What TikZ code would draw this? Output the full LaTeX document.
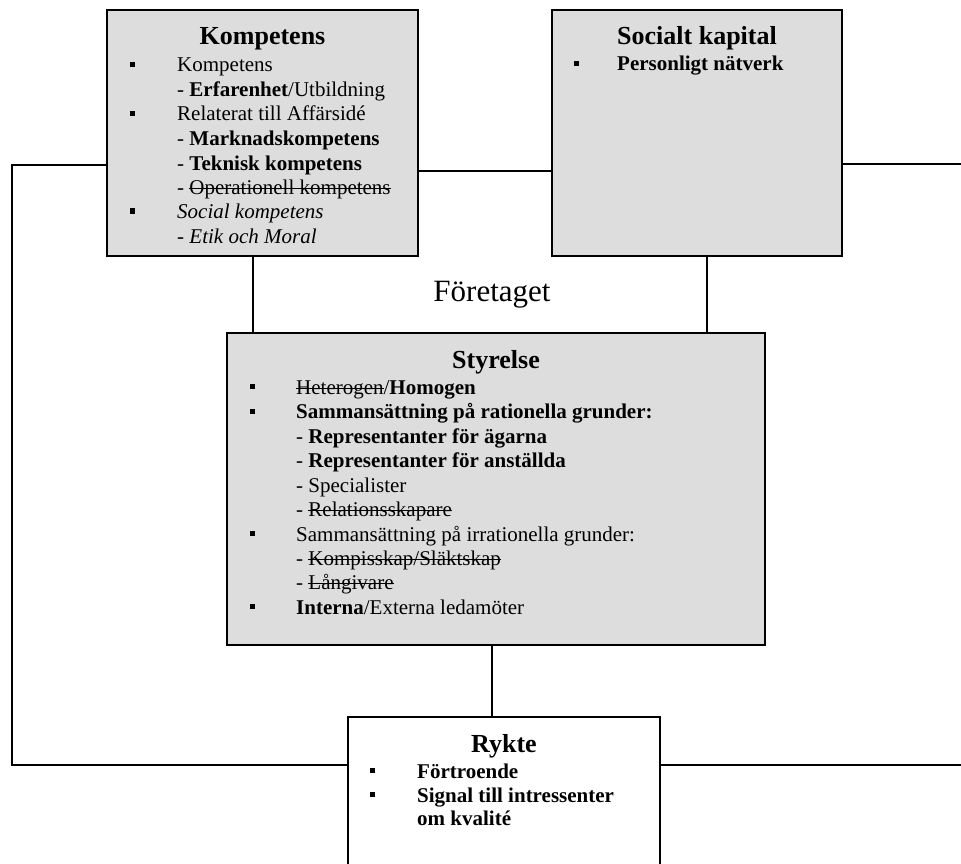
\documentclass[tikz,border=0pt]{standalone}
\usepackage{fontspec}
\setmainfont{Liberation Serif}
\definecolor{boxgray}{RGB}{221,221,221}
\newcommand{\bsq}[1]{\llap{\rule[5pt]{5pt}{5pt}\hspace{#1}}}
\newsavebox{\strkbox}
\newcommand{\strk}[1]{\sbox{\strkbox}{#1}\rlap{\rule[5.5pt]{\wd\strkbox}{0.9pt}}\usebox{\strkbox}}
\begin{document}
\begin{tikzpicture}[x=1pt,y=-1pt,
  graybox/.style={draw, line width=1.8pt, fill=boxgray, inner sep=0pt},
  whitebox/.style={draw, line width=1.8pt, fill=white, inner sep=0pt},
  conn/.style={draw, line width=1.3pt},
  txt/.style={anchor=base west, inner sep=0pt, font=\fontsize{21}{24}\selectfont},
  ttl/.style={anchor=base, inner sep=0pt, font=\fontsize{26}{30}\selectfont\bfseries}]
\useasboundingbox (0,0) rectangle (961,864);
\clip (0,0) rectangle (961,864);

% boxes
\node[graybox, minimum width=311pt, minimum height=246pt] (komp) at (262.5,133) {};
\node[graybox, minimum width=290pt, minimum height=246pt] (soc) at (697,133) {};
\node[graybox, minimum width=538pt, minimum height=312pt] (styr) at (496,489) {};
\node[whitebox, minimum width=312pt, minimum height=190pt] (ryk) at (504,812) {};

% helper coordinates
\coordinate (Lx) at (12,0);
\coordinate (Rx) at (985,0);
\coordinate (yKS) at (0,171);
\coordinate (yL) at (0,165);
\coordinate (yR) at (0,164);
\coordinate (yB) at (0,765);
\coordinate (kx) at (253,0);
\coordinate (sx) at (707,0);
\coordinate (mx) at (492,0);

% connectors
\draw[conn] (komp.east |- yKS) -- (soc.west |- yKS);
\draw[conn] (komp.west |- yL) -- (Lx |- yL) -- (Lx |- yB) -- (ryk.west |- yB);
\draw[conn] (soc.east |- yR) -- (Rx |- yR) -- (Rx |- yB) -- (ryk.east |- yB);
\draw[conn] (kx |- komp.south) -- (kx |- styr.north);
\draw[conn] (sx |- soc.south) -- (sx |- styr.north);
\draw[conn] (mx |- styr.south) -- (mx |- ryk.north);

% center label
\node[anchor=base, inner sep=0pt, font=\fontsize{31}{36}\selectfont] (foretaget) at (492,301.5) {Företaget};

% Kompetens
\node[ttl] (kt) at (262.5,45) {Kompetens};
\node[txt] (k1) at (177,72) {\bsq{42.5pt}Kompetens};
\node[txt] (k2) at (177,96.5) {- \textbf{Erfarenhet}/Utbildning};
\node[txt] (k3) at (177,121) {\bsq{42.5pt}Relaterat till Affärsidé};
\node[txt] (k4) at (177,145.5) {- \textbf{Marknadskompetens}};
\node[txt] (k5) at (177,170) {- \textbf{Teknisk kompetens}};
\node[txt] (k6) at (177,194) {- \strk{Operationell kompetens}};
\node[txt] (k7) at (177,218.5) {\bsq{42.5pt}\textit{Social kompetens}};
\node[txt] (k8) at (177,243) {\textit{- Etik och Moral}};

% Socialt kapital
\node[ttl] (st) at (697,45) {Socialt kapital};
\node[txt] (p1) at (617,71) {\bsq{38.5pt}\textbf{Personligt nätverk}};

% Styrelse
\node[ttl] (yt) at (496,368.5) {Styrelse};
\node[txt] (s1) at (296,394) {\bsq{41.5pt}\strk{Heterogen}/\textbf{Homogen}};
\node[txt] (s2) at (296,418.5) {\bsq{41.5pt}\textbf{Sammansättning på rationella grunder:}};
\node[txt] (s3) at (296,443) {- \textbf{Representanter för ägarna}};
\node[txt] (s4) at (296,467) {- \textbf{Representanter för anställda}};
\node[txt] (s5) at (296,492) {- Specialister};
\node[txt] (s6) at (296,516) {- \strk{Relationsskapare}};
\node[txt] (s7) at (296,541) {\bsq{41.5pt}Sammansättning på irrationella grunder:};
\node[txt] (s8) at (296,565) {- \strk{Kompisskap/Släktskap}};
\node[txt] (s9) at (296,589.5) {- \strk{Långivare}};
\node[txt] (s10) at (296,614) {\bsq{41.5pt}\textbf{Interna}/Externa ledamöter};

% Rykte
\node[ttl] (rt) at (504,752) {Rykte};
\node[txt] (r1) at (417,778) {\bsq{42.5pt}\textbf{Förtroende}};
\node[txt] (r2) at (417,802) {\bsq{42.5pt}\textbf{Signal till intressenter}};
\node[txt] (r3) at (417,825) {\textbf{om kvalité}};
\end{tikzpicture}
\end{document}
